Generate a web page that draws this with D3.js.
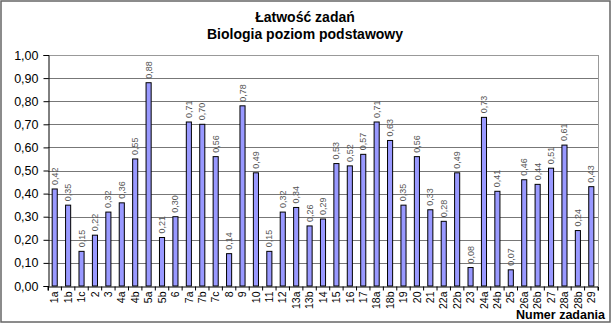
<!DOCTYPE html>
<html><head><meta charset="utf-8">
<script src="https://cdn.jsdelivr.net/npm/d3@7"></script>
<style>body{margin:0;background:#fff}svg{display:block;font-family:Arial,"Liberation Sans",sans-serif}</style>
</head><body><svg id="c" width="612" height="324"></svg>
<script>
const categories = ["1a","1b","1c","2","3","4a","4b","5a","5b","6","7a","7b","7c","8","9","10","11","12","13a","13b","14","15","16","17","18a","18b","19","20","21","22a","22b","23","24a","24b","25","26a","26b","27","28a","28b","29"];
const values = [0.42,0.35,0.15,0.22,0.32,0.36,0.55,0.88,0.21,0.30,0.71,0.70,0.56,0.14,0.78,0.49,0.15,0.32,0.34,0.26,0.29,0.53,0.52,0.57,0.71,0.63,0.35,0.56,0.33,0.28,0.49,0.08,0.73,0.41,0.07,0.46,0.44,0.51,0.61,0.24,0.43];
const yTicks = [0,0.1,0.2,0.3,0.4,0.5,0.6,0.7,0.8,0.9,1.0];
const yTickLabels = ["0,00","0,10","0,20","0,30","0,40","0,50","0,60","0,70","0,80","0,90","1,00"];
const titleLines = ["Łatwość zadań","Biologia poziom podstawowy"];
const xTitle = "Numer zadania";

const svg = d3.select("#c");
const L=48, R=598, T=55, B=286;
const fmt = v => (+v).toFixed(2).replace(".", ",");
const x = d3.scaleBand().domain(categories).range([L,R]).paddingInner(0.62).paddingOuter(0.31);
const y = d3.scaleLinear().domain([0,1]).range([B,T]);

svg.append("rect").attr("x",1).attr("y",1).attr("width",609).attr("height",321).attr("fill","#fff").attr("stroke","#666").attr("stroke-width",1.5);

// grid
svg.append("g").selectAll("line").data(yTicks.slice(1)).join("line")
  .attr("x1",L).attr("x2",R).attr("y1",d=>Math.round(y(d))+0.5).attr("y2",d=>Math.round(y(d))+0.5)
  .attr("stroke",d=>d===1?"#999":"#777").attr("stroke-width",1);
svg.append("line").attr("x1",R+0.5).attr("x2",R+0.5).attr("y1",T).attr("y2",B).attr("stroke","#999");

// bars
svg.append("g").selectAll("rect").data(values).join("rect")
  .attr("x",(d,i)=>x(categories[i])).attr("width",x.bandwidth())
  .attr("y",d=>y(d)).attr("height",d=>B-y(d))
  .attr("fill","#9999ff").attr("stroke","#000").attr("stroke-width",1);

// value labels
svg.append("g").selectAll("text").data(values).join("text")
  .attr("transform",(d,i)=>`translate(${x(categories[i])+x.bandwidth()/2+3},${y(d)-4}) rotate(-90)`)
  .attr("font-size",9).attr("fill","#555").text(d=>fmt(d));

// y axis
const ya = d3.axisLeft(y).tickValues(yTicks).tickSize(5).tickPadding(5).tickFormat((d,i)=>yTickLabels[i]);
const yg = svg.append("g").attr("transform",`translate(${L+0.5},0)`).call(ya);
yg.select(".domain").attr("stroke","#000");
yg.selectAll("text").attr("font-size",12.5).attr("fill","#000").attr("font-family","Arial, Liberation Sans, sans-serif");

// x axis
const xa = d3.axisBottom(x).tickSize(4);
const xg = svg.append("g").attr("transform",`translate(0,${B+0.5})`).call(xa);
xg.select(".domain").attr("stroke","#000");
xg.selectAll("text").attr("font-size",10.5).attr("fill","#000").attr("font-family","Arial, Liberation Sans, sans-serif")
  .attr("transform","rotate(-90)").attr("text-anchor","end").attr("x",-5).attr("y",0).attr("dy","0.35em");
xg.selectAll(".tick line").remove();
xg.append("g").selectAll("line").data(d3.range(categories.length+1)).join("line")
  .attr("x1",i=>L+i*(R-L)/categories.length).attr("x2",i=>L+i*(R-L)/categories.length)
  .attr("y1",0).attr("y2",4).attr("stroke","#000");

// titles
svg.append("g").selectAll("text").data(titleLines).join("text")
  .attr("x",305).attr("y",(d,i)=>22+i*17).attr("text-anchor","middle")
  .attr("font-size",14).attr("font-weight","bold").text(d=>d);
svg.append("text").attr("x",605).attr("y",319).attr("text-anchor","end")
  .attr("font-size",12.5).attr("font-weight","bold").text(xTitle);
</script></body></html>
